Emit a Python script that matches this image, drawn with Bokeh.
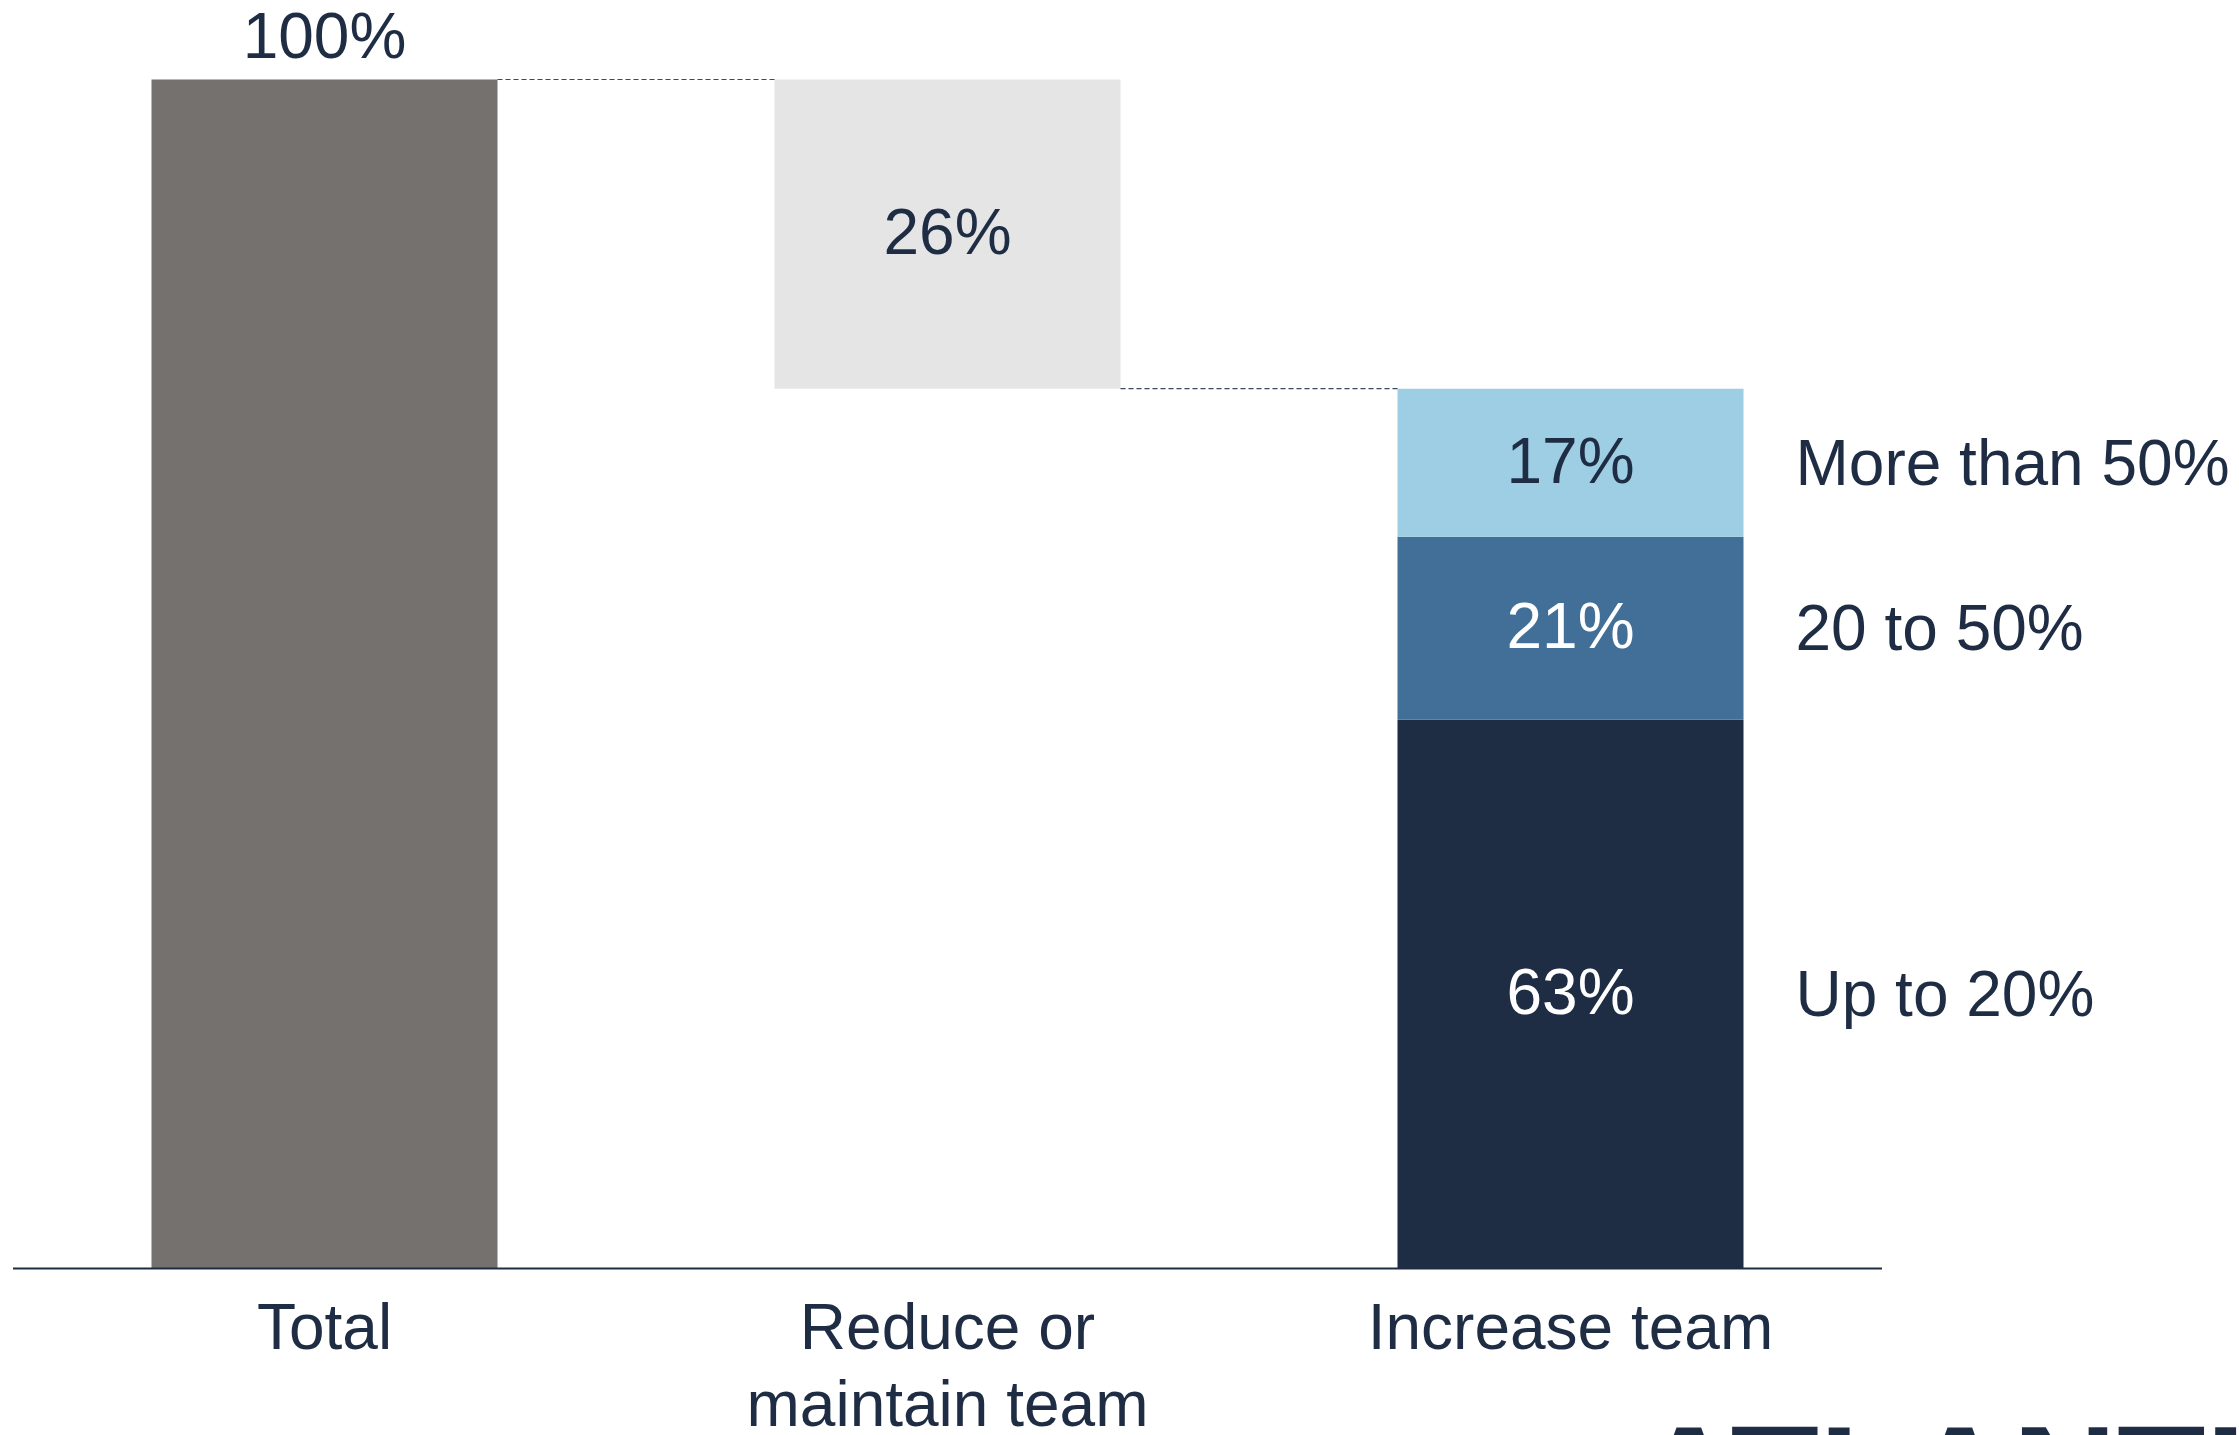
from bokeh.plotting import figure
from bokeh.models import Range1d, ColumnDataSource, Label
from bokeh.core.properties import value
from bokeh.embed import file_html
from bokeh.resources import INLINE

# ---------------- data ----------------
categories = ["Total", "Reduce or\nmaintain team", "Increase team"]
total_value = 100
reduce_value = 26
increase_labels = ["Up to 20%", "20 to 50%", "More than 50%"]
increase_shares = [63, 21, 17]

# ---------------- styles ----------------
NAVY = "#1f2d44"
GRAY = "#75716f"
LIGHT_GRAY = "#e5e5e5"
SEG_COLORS = ["#1f2d44", "#426f97", "#9ecee3"]
SEG_TEXT = ["white", "white", NAVY]
FONT = "Liberation Sans"
FS = "64px"

# ---------------- layout ----------------
W, H = 2239, 1435
PX_PER_CAT = 623.0
X0_PX = 324.0
BASE_PX = 1268.0
PX_PER_PCT = 11.89
BAR_W = 346.0 / PX_PER_CAT

x_range = Range1d(-X0_PX / PX_PER_CAT, (W - X0_PX) / PX_PER_CAT)
y_range = Range1d(-(H - BASE_PX) / PX_PER_PCT, BASE_PX / PX_PER_PCT)

p = figure(width=W, height=H, x_range=x_range, y_range=y_range,
           output_backend="svg", toolbar_location=None,
           x_axis_type=None, y_axis_type=None, min_border=0)
p.grid.visible = False
p.outline_line_color = None
p.background_fill_color = "white"
p.border_fill_color = "white"

idx = list(range(len(categories)))
increase_total = total_value - reduce_value

# Total bar
p.vbar(x=[idx[0]], bottom=[0], top=[total_value], width=BAR_W,
       fill_color=GRAY, line_color=None)
# Reduce bar (floating)
p.vbar(x=[idx[1]], bottom=[total_value - reduce_value], top=[total_value],
       width=BAR_W, fill_color=LIGHT_GRAY, line_color=None)

# Increase stacked segments (scaled to the increase share of total)
share_sum = sum(increase_shares)
bottoms, tops = [], []
acc = 0.0
for s in increase_shares:
    h = s * increase_total / share_sum
    bottoms.append(acc)
    acc += h
    tops.append(acc)
centers = [(b + t) / 2 for b, t in zip(bottoms, tops)]
seg_src = ColumnDataSource(dict(
    x=[idx[2]] * len(increase_shares), bottom=bottoms, top=tops,
    color=SEG_COLORS, center=centers,
    label=[f"{s}%" for s in increase_shares], tcolor=SEG_TEXT,
    name=increase_labels))
p.vbar(x="x", bottom="bottom", top="top", width=BAR_W, fill_color="color",
       line_color=None, source=seg_src)

# connectors
p.segment(x0=[idx[0] + BAR_W / 2, idx[1] + BAR_W / 2],
          x1=[idx[1] - BAR_W / 2, idx[2] - BAR_W / 2],
          y0=[total_value, total_value - reduce_value],
          y1=[total_value, total_value - reduce_value],
          line_color="#3c4a60", line_width=1.2, line_dash="5 3")

# baseline
p.segment(x0=[idx[0] - 0.5], x1=[idx[-1] + 0.5], y0=[0], y1=[0],
          line_color=NAVY, line_width=2)

# value labels
p.text(x=[idx[0]], y=[total_value], text=[f"{total_value}%"],
       text_align="center", text_baseline="middle", y_offset=-44,
       text_font=value(FONT), text_font_size=FS, text_color=NAVY)
p.text(x=[idx[1]], y=[total_value - reduce_value / 2], text=[f"{reduce_value}%"],
       text_align="center", text_baseline="middle", y_offset=-2,
       text_font=value(FONT), text_font_size=FS, text_color=NAVY)
p.text(x="x", y="center", text="label", text_color="tcolor", source=seg_src,
       text_align="center", text_baseline="middle", y_offset=-2,
       text_font=value(FONT), text_font_size=FS)
# segment names right of bar
p.text(x=[idx[2] + BAR_W / 2] * len(increase_labels), y=centers, text=increase_labels,
       x_offset=52, text_align="left", text_baseline="middle",
       text_font=value(FONT), text_font_size=FS, text_color=NAVY)

# category labels
p.text(x=idx, y=[0] * len(idx), text=categories, text_align="center",
       text_baseline="top", y_offset=22, text_line_height=1.08,
       text_font=value(FONT), text_font_size=FS, text_color=NAVY)

# logo (cut off at page bottom)
logo = Label(x=x_range.start + 1636 / PX_PER_CAT,
             y=y_range.start - (1476 - H) / PX_PER_PCT,
             text="ATLANTIC", text_font=FONT, text_font_style="bold",
             text_font_size="145px", text_color=NAVY, text_baseline="middle")
p.add_layout(logo)

open("out.html", "w").write(file_html(p, INLINE))
